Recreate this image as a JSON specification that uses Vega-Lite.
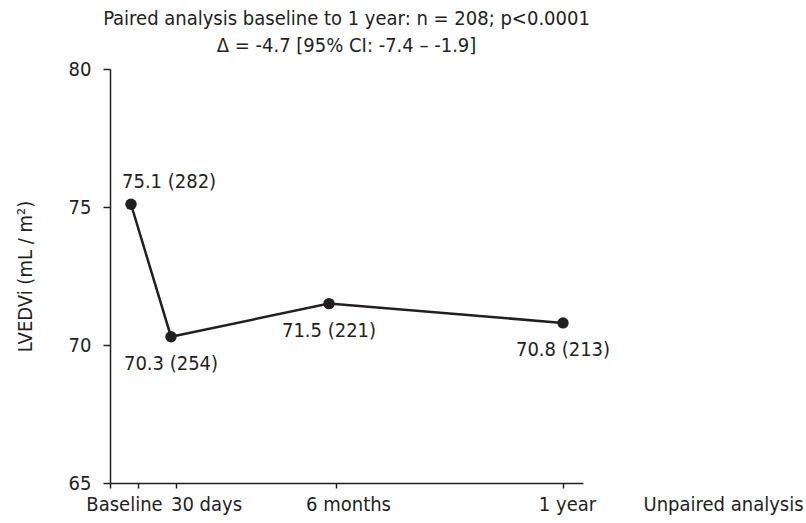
{
  "$schema": "https://vega.github.io/schema/vega-lite/v6.json",
  "width": 473,
  "height": 414,
  "autosize": "none",
  "padding": {"left": 110, "top": 69, "right": 223, "bottom": 40},
  "background": "white",
  "config": {
    "font": "Liberation Sans Narrow, DejaVu Sans Condensed, Open Sans, sans-serif",
    "view": {"stroke": null}
  },
  "title": {
    "text": ["Paired analysis baseline to 1 year: n = 208; p<0.0001", "Δ = -4.7 [95% CI: -7.4 – -1.9]"],
    "fontSize": 20,
    "fontWeight": "normal",
    "lineHeight": 27,
    "anchor": "middle",
    "offset": 3,
    "color": "#231f20"
  },
  "data": {
    "values": [
      {"timepoint": "Baseline", "pos": 21, "lvedvi": 75.1, "n": 282, "label": "75.1 (282)"},
      {"timepoint": "30 days", "pos": 61, "lvedvi": 70.3, "n": 254, "label": "70.3 (254)"},
      {"timepoint": "6 months", "pos": 219, "lvedvi": 71.5, "n": 221, "label": "71.5 (221)"},
      {"timepoint": "1 year", "pos": 453, "lvedvi": 70.8, "n": 213, "label": "70.8 (213)"}
    ]
  },
  "encoding": {
    "x": {
      "field": "pos",
      "type": "quantitative",
      "scale": {"domain": [0, 473], "nice": false, "zero": false},
      "axis": {
        "values": [0, 28, 66, 226, 453],
        "labelExpr": "datum.value == 28 ? 'Baseline' : datum.value == 66 ? '30 days' : datum.value == 226 ? '6 months' : datum.value == 453 ? '1 year' : ''",
        "labelOffset": {"condition": [
          {"test": "datum.value == 28", "value": -14},
          {"test": "datum.value == 66", "value": 30},
          {"test": "datum.value == 226", "value": 12},
          {"test": "datum.value == 453", "value": 4}
        ], "value": 0},
        "grid": false,
        "domainColor": "#231f20",
        "domainWidth": 1.5,
        "tickColor": "#231f20",
        "tickWidth": 1.5,
        "tickSize": 5,
        "labelFontSize": 20,
        "labelColor": "#231f20",
        "labelPadding": 6,
        "labelBaseline": "top",
        "labelFlush": false,
        "labelOverlap": false,
        "title": "Unpaired analysis",
        "titleFontSize": 20,
        "titleFontWeight": "normal",
        "titleColor": "#231f20",
        "titleAlign": "left",
        "titleBaseline": "top",
        "titleX": 533,
        "titleY": 11
      }
    },
    "y": {
      "field": "lvedvi",
      "type": "quantitative",
      "scale": {"domain": [65, 80], "nice": false, "zero": false},
      "axis": {
        "values": [65, 70, 75, 80],
        "grid": false,
        "domainColor": "#231f20",
        "domainWidth": 1.5,
        "tickColor": "#231f20",
        "tickWidth": 1.5,
        "tickSize": 7,
        "labelFontSize": 20,
        "labelColor": "#231f20",
        "labelPadding": 12,
        "labelFlush": false,
        "title": "LVEDVi (mL / m²)",
        "titleFontSize": 20,
        "titleFontWeight": "normal",
        "titleColor": "#231f20",
        "titlePadding": 33
      }
    }
  },
  "layer": [
    {"mark": {"type": "line", "color": "#231f20", "strokeWidth": 2.5}},
    {"mark": {"type": "point", "filled": true, "color": "#231f20", "opacity": 1, "size": 130}},
    {
      "transform": [{"filter": "datum.timepoint == 'Baseline'"}],
      "mark": {"type": "text", "align": "left", "baseline": "middle", "dx": -9, "dy": -22, "fontSize": 20, "color": "#231f20"},
      "encoding": {"text": {"field": "label"}}
    },
    {
      "transform": [{"filter": "datum.timepoint != 'Baseline'"}],
      "mark": {"type": "text", "align": "center", "baseline": "middle", "dy": 27, "fontSize": 20, "color": "#231f20"},
      "encoding": {"text": {"field": "label"}}
    }
  ]
}
